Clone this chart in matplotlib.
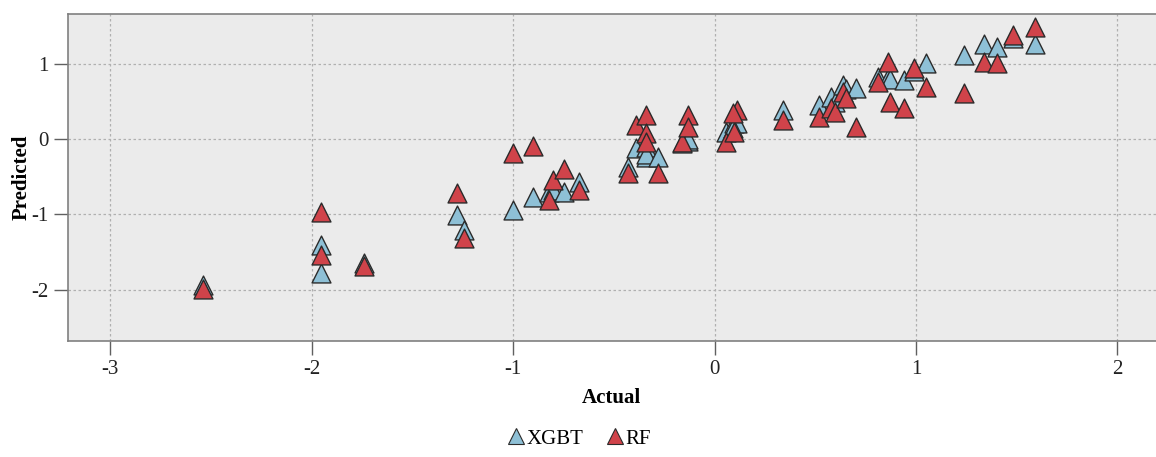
import numpy as np
import matplotlib.pyplot as plt
from matplotlib.lines import Line2D

plt.rcParams['font.family'] = ['Liberation Serif', 'DejaVu Serif']
plt.rcParams['axes.unicode_minus'] = False

# actual values of the test samples
actual = [-2.54, -1.955, -1.955, -1.74, -1.28, -1.245, -1.0, -0.90, -0.82, -0.80,
          -0.75, -0.675, -0.43, -0.39, -0.34, -0.34, -0.34, -0.28, -0.16, -0.13,
          -0.13, 0.055, 0.095, 0.11, 0.09, 0.34, 0.52, 0.58, 0.60, 0.635,
          0.65, 0.70, 0.81, 0.86, 0.87, 0.94, 0.99, 1.05, 1.24, 1.335,
          1.40, 1.48, 1.59]
pred_xgbt = [-1.94, -1.41, -1.78, -1.65, -1.01, -1.21, -0.94, -0.77, -0.70, -0.68,
             -0.70, -0.57, -0.37, -0.12, -0.24, -0.10, -0.20, -0.24, -0.05, -0.02,
             0.0, 0.09, 0.21, 0.21, 0.15, 0.39, 0.45, 0.56, 0.50, 0.72,
             0.66, 0.68, 0.82, 0.81, 0.80, 0.78, 0.90, 1.01, 1.12, 1.27,
             1.22, 1.34, 1.27]
pred_rf = [-1.99, -0.97, -1.54, -1.69, -0.72, -1.31, -0.19, -0.09, -0.81, -0.54,
           -0.39, -0.68, -0.45, 0.19, 0.32, 0.08, -0.04, -0.45, -0.04, 0.32,
           0.16, -0.04, 0.09, 0.39, 0.35, 0.25, 0.29, 0.42, 0.36, 0.63,
           0.54, 0.16, 0.76, 1.02, 0.49, 0.41, 0.94, 0.69, 0.61, 1.02,
           1.01, 1.38, 1.49]

xgbt_color = '#8ec0d6'
rf_color = '#d0434a'
edge = '#2b2b2b'

fig = plt.figure(figsize=(11.56, 4.57), dpi=100)
ax = fig.add_axes([0.0588, 0.254, 0.941, 0.715])
ax.set_facecolor('#ebebeb')

ax.scatter(actual, pred_xgbt, marker='^', s=185, c=xgbt_color, edgecolors=edge, linewidths=1.0, zorder=3)
ax.scatter(actual, pred_rf, marker='^', s=185, c=rf_color, edgecolors=edge, linewidths=1.0, zorder=4)

ax.set_xlim(-3.21, 2.19)
ax.set_ylim(-2.68, 1.66)
ax.set_xticks([-3, -2, -1, 0, 1, 2])
ax.set_yticks([-2, -1, 0, 1])
ax.grid(True, color='#b0b0b0', linestyle=(0, (2, 2)), linewidth=0.9, zorder=0)
ax.set_axisbelow(True)

for side in ['left', 'top', 'bottom']:
    ax.spines[side].set_color('#808080')
    ax.spines[side].set_linewidth(1.2)
ax.spines['right'].set_visible(False)
ax.tick_params(axis='both', direction='out', length=10, width=1.0, color='#606060',
               labelsize=15, labelcolor='#222222', pad=4)

ax.set_xlabel('Actual', fontsize=15, fontweight='bold', labelpad=6)
ax.set_ylabel('Predicted', fontsize=15, fontweight='bold', labelpad=0)

handles = [Line2D([], [], marker='^', linestyle='none', markersize=11, markerfacecolor=xgbt_color,
                  markeredgecolor=edge, markeredgewidth=0.8, label='XGBT'),
           Line2D([], [], marker='^', linestyle='none', markersize=11, markerfacecolor=rf_color,
                  markeredgecolor=edge, markeredgewidth=0.8, label='RF')]
fig.legend(handles=handles, loc='center', bbox_to_anchor=(0.5, 0.04), ncol=2, frameon=False,
           fontsize=15, handletextpad=0.0, columnspacing=1.0, handlelength=1.0)

fig.savefig('out.png', dpi=100)
